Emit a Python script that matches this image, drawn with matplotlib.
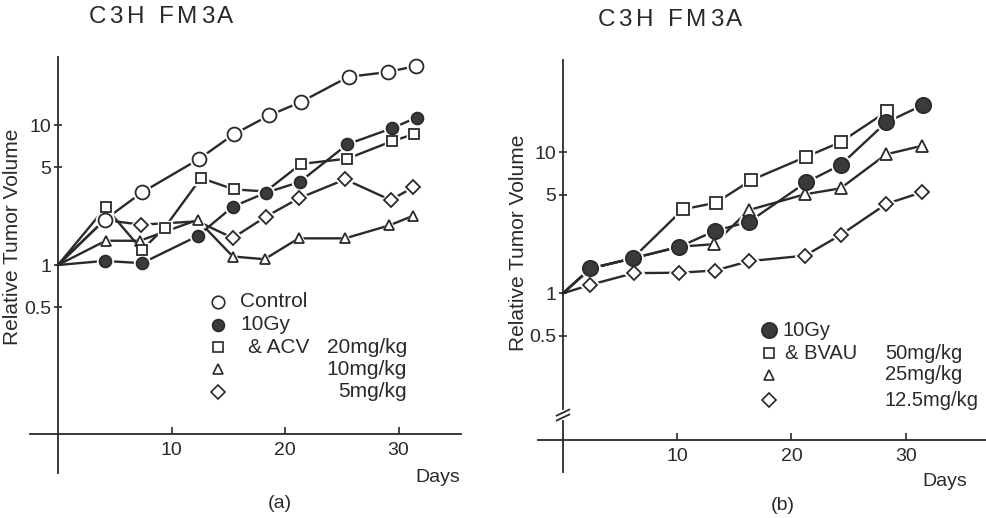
import matplotlib
matplotlib.use('Agg')
import matplotlib.pyplot as plt

plt.rcParams['font.family'] = ['Liberation Sans', 'DejaVu Sans']

# ---------------- data (a) ----------------
control_days = [0, 4.1, 7.4, 12.4, 15.5, 18.6, 21.4, 25.6, 29.1, 31.5]
control = [1, 2.1, 3.3, 5.7, 8.6, 11.7, 14.6, 22.1, 23.9, 26.4]
gy_days = [0, 4.1, 7.4, 12.3, 15.4, 18.3, 21.3, 25.5, 29.4, 31.6]
gy = [1, 1.07, 1.03, 1.61, 2.61, 3.28, 3.92, 7.28, 9.46, 11.3]
acv20_days = [0, 4.2, 7.4, 9.4, 12.6, 15.5, 18.3, 21.4, 25.5, 29.4, 31.4]
acv20 = [1, 2.58, 1.28, 1.85, 4.18, 3.47, 3.35, 5.27, 5.75, 7.65, 8.62]
acv10_days = [0, 4.2, 7.2, 12.3, 15.4, 18.2, 21.2, 25.3, 29.2, 31.3]
acv10 = [1, 1.49, 1.49, 2.10, 1.15, 1.10, 1.55, 1.55, 1.92, 2.25]
acv5_days = [0, 4.1, 7.3, 12.3, 15.4, 18.3, 21.2, 25.3, 29.3, 31.3]
acv5 = [1, 2.1, 1.94, 2.05, 1.56, 2.21, 2.99, 4.09, 2.91, 3.59]

# ---------------- data (b) ----------------
b_gy_days = [0, 2.4, 6.1, 10.2, 13.3, 16.3, 21.3, 24.3, 28.3, 31.5]
b_gy = [1, 1.50, 1.77, 2.14, 2.77, 3.22, 6.13, 8.13, 16.3, 21.6]
bvau50_days = [0, 2.4, 6.1, 10.5, 13.4, 16.5, 21.3, 24.3, 28.4]
bvau50 = [1, 1.50, 1.77, 3.94, 4.39, 6.36, 9.31, 11.8, 19.6]
bvau25_days = [0, 2.4, 6.1, 10.2, 13.2, 16.3, 21.2, 24.3, 28.3, 31.4]
bvau25 = [1, 1.50, 1.77, 2.14, 2.23, 3.90, 5.04, 5.55, 9.68, 11.1]
bvau12_days = [0, 2.4, 6.2, 10.2, 13.3, 16.3, 21.2, 24.3, 28.3, 31.4]
bvau12 = [1, 1.15, 1.39, 1.40, 1.45, 1.69, 1.85, 2.59, 4.30, 5.20]

x_ticks = [10, 20, 30]
y_ticks = [0.5, 1, 5, 10]
y_ticklabels = ['0.5', '1', '5', '10']

title = 'C3HFM3A'
ylabel = 'Relative Tumor Volume'

W, H = 986, 518
fig = plt.figure(figsize=(W / 100, H / 100), dpi=100)
fig.patch.set_facecolor('white')

LC = '#2a2a2a'
FC = '#3a3a3a'


def make_axes(x0px, pxday, y1px, pxdec, xlim, top_px, bottom_px, axis_px):
    left_px = x0px + xlim[0] * pxday
    right_px = x0px + xlim[1] * pxday
    ax = fig.add_axes([left_px / W, 1 - bottom_px / H,
                       (right_px - left_px) / W, (bottom_px - top_px) / H])
    ax.set_yscale('log')
    ax.set_xlim(xlim)
    ax.set_ylim(10 ** ((y1px - bottom_px) / pxdec), 10 ** ((y1px - top_px) / pxdec))
    ax.patch.set_alpha(0)
    for s in ['top', 'right']:
        ax.spines[s].set_visible(False)
    ax.spines['left'].set_position(('data', 0))
    ax.spines['bottom'].set_position(('data', 10 ** ((y1px - axis_px) / pxdec)))
    for s in ['left', 'bottom']:
        ax.spines[s].set_linewidth(1.3)
        ax.spines[s].set_color(LC)
    ax.set_xticks(x_ticks)
    ax.set_xticklabels([str(t) for t in x_ticks])
    ax.set_yticks(y_ticks)
    ax.set_yticklabels(y_ticklabels)
    ax.yaxis.set_minor_locator(matplotlib.ticker.NullLocator())
    ax.tick_params(axis='x', direction='in', length=5, width=1.2, pad=6,
                   labelsize=14, colors=LC)
    ax.tick_params(axis='y', direction='inout', length=6, width=1.2, pad=2,
                   labelsize=14, colors=LC)
    return ax


def series(ax, d, v, marker, ms, filled, mevery):
    ax.plot(d, v, color=LC, lw=1.7, zorder=2, clip_on=False)
    md = [d[i] for i in mevery]
    mv = [v[i] for i in mevery]
    # white halo so the lines stop short of the symbols, as in the original
    ax.plot(md, mv, ls='none', marker=marker, ms=ms + 3, mfc='white', mec='white',
            mew=1, zorder=3, clip_on=False)
    ax.plot(md, mv, ls='none', marker=marker, ms=ms,
            mfc=FC if filled else 'white', mec=LC, mew=1.3, zorder=4, clip_on=False)


# ---------------- panel (a) ----------------
axa = make_axes(58, 11.35, 265, 140, (-2.5, 35.5), 57, 473, 434)
series(axa, acv10_days, acv10, '^', 7.5, False, list(range(1, 10)))
series(axa, acv5_days, acv5, 'D', 7, False, [2, 4, 5, 6, 7, 8, 9])
series(axa, acv20_days, acv20, 's', 7.5, False, [1, 2, 3, 4, 5, 7, 8, 9, 10])
series(axa, gy_days, gy, 'o', 8.5, True, list(range(1, 10)))
series(axa, control_days, control, 'o', 10, False, list(range(1, 10)))

# ---------------- panel (b) ----------------
axb = make_axes(563, 11.42, 293.3, 141, (-2.2, 37.0), 60, 472, 440)
series(axb, bvau12_days, bvau12, 'D', 7.5, False, list(range(1, 10)))
series(axb, bvau25_days, bvau25, '^', 8, False, list(range(4, 10)))
series(axb, bvau50_days, bvau50, 's', 8, False, list(range(3, 9)))
series(axb, b_gy_days, b_gy, 'o', 11, True, list(range(1, 10)))

# axis break mark on panel (b)
brk = 10 ** ((293.3 - 415) / 141)
axb.plot([0, 0], [brk * 0.95, brk * 1.05], color='white', lw=3, zorder=4, clip_on=False)
for f in (0.96, 1.04):
    axb.plot([-0.55, 0.55], [brk * f / 1.05, brk * f * 1.05], color=LC, lw=1.3,
             zorder=5, clip_on=False)


def fx(px):
    return px / W


def fy(py):
    return 1 - py / H


# titles (letter-spaced like the original)
title_x = [97.5, 115.5, 135.5, 166.5, 187, 207.5, 225]
for cx, ch in zip(title_x, title):
    fig.text(fx(cx), fy(17), ch, fontsize=17.5, ha='center', va='center', color=LC)
    fig.text(fx(cx + 509), fy(20), ch, fontsize=17.5, ha='center', va='center', color=LC)

fig.text(fx(13), fy(237), ylabel, rotation=90, fontsize=15, ha='center', va='center', color=LC)
fig.text(fx(518), fy(243), ylabel, rotation=90, fontsize=15, ha='center', va='center', color=LC)
fig.text(fx(460), fy(477), 'Days', fontsize=14, ha='right', va='center', color=LC)
fig.text(fx(967), fy(482), 'Days', fontsize=14, ha='right', va='center', color=LC)
fig.text(fx(280), fy(503), '(a)', fontsize=14, ha='center', va='center', color=LC)
fig.text(fx(783), fy(505), '(b)', fontsize=14, ha='center', va='center', color=LC)


def legend_marker(xp, yp, marker, ms, filled):
    fig.add_artist(matplotlib.lines.Line2D([fx(xp)], [fy(yp)], marker=marker, ms=ms,
                                           mfc=FC if filled else 'white', mec=LC, mew=1.2,
                                           transform=fig.transFigure, ls='none'))


# legend (a)
rows_a = [301.7, 325, 347.3, 369.3, 391.7]
legend_marker(218, rows_a[0], 'o', 9, False)
legend_marker(218, rows_a[1], 'o', 8.5, True)
legend_marker(218, rows_a[2], 's', 7, False)
legend_marker(218, rows_a[3], '^', 7, False)
legend_marker(218, rows_a[4], 'D', 7, False)
fs_a = 15
fig.text(fx(240), fy(rows_a[0]), 'Control', fontsize=fs_a, va='center', color=LC)
fig.text(fx(240), fy(rows_a[1]), '10Gy', fontsize=fs_a, va='center', color=LC)
fig.text(fx(248), fy(rows_a[2]), '& ACV', fontsize=fs_a, va='center', color=LC)
fig.text(fx(407), fy(rows_a[2]), '20mg/kg', fontsize=fs_a, va='center', ha='right', color=LC)
fig.text(fx(407), fy(rows_a[3]), '10mg/kg', fontsize=fs_a, va='center', ha='right', color=LC)
fig.text(fx(407), fy(rows_a[4]), '5mg/kg', fontsize=fs_a, va='center', ha='right', color=LC)

# legend (b)
rows_b = [330, 353.3, 375, 400]
legend_marker(769, rows_b[0], 'o', 11, True)
legend_marker(769, rows_b[1], 's', 7, False)
legend_marker(769, rows_b[2], '^', 7, False)
legend_marker(769, rows_b[3], 'D', 7, False)
fs_b = 14.5
fig.text(fx(783), fy(rows_b[0]), '10Gy', fontsize=fs_b, va='center', color=LC)
fig.text(fx(785), fy(rows_b[1]), '& BVAU', fontsize=fs_b, va='center', color=LC)
fig.text(fx(885), fy(rows_b[1]), '50mg/kg', fontsize=fs_b, va='center', color=LC)
fig.text(fx(885), fy(rows_b[2]), '25mg/kg', fontsize=fs_b, va='center', color=LC)
fig.text(fx(885), fy(rows_b[3]), '12.5mg/kg', fontsize=fs_b, va='center', color=LC)

fig.savefig('out.png', dpi=100, facecolor='white')
